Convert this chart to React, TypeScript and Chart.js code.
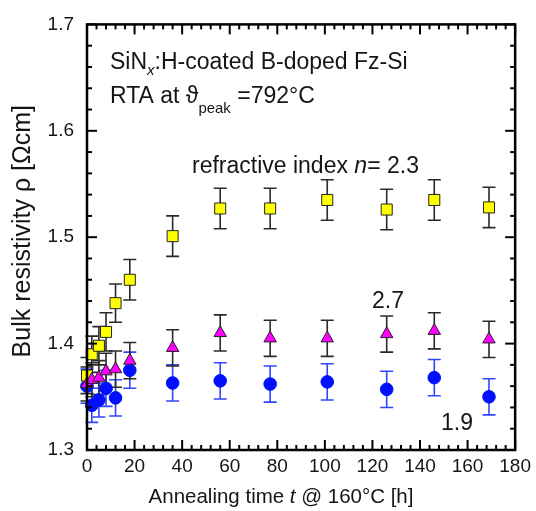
import React, { useEffect, useRef } from "react";
import { Chart, registerables } from "chart.js";

Chart.register(...registerables);

const FONT = '"Liberation Sans", Arial, Helvetica, sans-serif';
const TEXT = "#151515";

// Annealing time t @ 160°C [h]
const annealTimes = [0, 2, 5, 8, 12, 18, 36, 56, 77, 101, 126, 146, 169];

// refractive index n = 2.3 (yellow squares)
const rhoN23 = [1.370, 1.390, 1.398, 1.411, 1.438, 1.460, 1.501, 1.527, 1.527, 1.535, 1.526, 1.535, 1.528];
const errN23 = [0.017, 0.017, 0.018, 0.018, 0.018, 0.019, 0.019, 0.019, 0.019, 0.019, 0.019, 0.019, 0.019];

// refractive index n = 2.7 (magenta triangles)
const rhoN27 = [1.362, 1.366, 1.368, 1.374, 1.376, 1.384, 1.396, 1.410, 1.405, 1.405, 1.409, 1.412, 1.404];
const errN27 = [0.016, 0.016, 0.016, 0.017, 0.017, 0.017, 0.017, 0.017, 0.017, 0.017, 0.017, 0.017, 0.017];

// refractive index n = 1.9 (blue circles)
const rhoN19 = [1.360, 1.342, 1.347, 1.358, 1.349, 1.375, 1.363, 1.365, 1.362, 1.364, 1.357, 1.368, 1.350];
const errN19 = [0.016, 0.016, 0.016, 0.017, 0.017, 0.017, 0.017, 0.017, 0.017, 0.017, 0.017, 0.017, 0.017];

// axis ranges / tick steps
const xRange = [0, 180];
const xStep = 20;
const yRange = [1.3, 1.7];
const yStep = 0.1;

type Seg = { t: string; italic?: boolean; sub?: number };

function segFont(s: Seg, size: number) {
  const fs = s.sub !== undefined ? size * 0.65 : size;
  return `${s.italic ? "italic " : ""}${fs}px ${FONT}`;
}

function richWidth(ctx: CanvasRenderingContext2D, segs: Seg[], size: number) {
  let w = 0;
  for (const s of segs) {
    ctx.font = segFont(s, size);
    w += ctx.measureText(s.t).width;
  }
  return w;
}

function drawRich(ctx: CanvasRenderingContext2D, segs: Seg[], x: number, y: number, size: number) {
  let cx = x;
  for (const s of segs) {
    ctx.font = segFont(s, size);
    const dy = s.sub !== undefined ? s.sub : 0;
    ctx.fillText(s.t, cx, y + dy);
    cx += ctx.measureText(s.t).width;
  }
}

const errorBarPlugin = {
  id: "errorBars",
  beforeDatasetsDraw(chart: any) {
    const ctx: CanvasRenderingContext2D = chart.ctx;
    const xs = chart.scales.x;
    const ys = chart.scales.y;
    const cap = 6.5;
    for (let i = chart.data.datasets.length - 1; i >= 0; i--) {
      const ds: any = chart.data.datasets[i];
      ctx.save();
      ctx.strokeStyle = ds.errColor;
      ctx.lineWidth = 1.6;
      ds.data.forEach((p: any, j: number) => {
        const x = xs.getPixelForValue(p.x);
        const yTop = ys.getPixelForValue(p.y + ds.errors[j]);
        const yBot = ys.getPixelForValue(p.y - ds.errors[j]);
        ctx.beginPath();
        ctx.moveTo(x, yTop);
        ctx.lineTo(x, yBot);
        ctx.moveTo(x - cap, yTop);
        ctx.lineTo(x + cap, yTop);
        ctx.moveTo(x - cap, yBot);
        ctx.lineTo(x + cap, yBot);
        ctx.stroke();
      });
      ctx.restore();
    }
  },
};

const frameTicksPlugin = {
  id: "frameTicks",
  afterDraw(chart: any) {
    const ctx: CanvasRenderingContext2D = chart.ctx;
    const a = chart.chartArea;
    const xs = chart.scales.x;
    const ys = chart.scales.y;
    const MAJOR = 10;
    const MINOR = 5;
    ctx.save();
    ctx.strokeStyle = "#000";
    ctx.lineWidth = 2;
    const seg = (x1: number, y1: number, x2: number, y2: number) => {
      ctx.beginPath();
      ctx.moveTo(x1, y1);
      ctx.lineTo(x2, y2);
      ctx.stroke();
    };
    const xv: number[] = xs.ticks.map((t: any) => t.value);
    const drawX = (v: number, len: number) => {
      const px = xs.getPixelForValue(v);
      seg(px, a.bottom, px, a.bottom - len);
      seg(px, a.top, px, a.top + len);
    };
    xv.forEach((v) => drawX(v, MAJOR));
    for (let k = 0; k < xv.length - 1; k++) {
      const st = (xv[k + 1] - xv[k]) / 5;
      for (let m = 1; m < 5; m++) drawX(xv[k] + m * st, MINOR);
    }
    const yv: number[] = ys.ticks.map((t: any) => t.value);
    const drawY = (v: number, len: number) => {
      const py = ys.getPixelForValue(v);
      seg(a.left, py, a.left + len, py);
      seg(a.right, py, a.right - len, py);
    };
    yv.forEach((v) => drawY(v, MAJOR));
    for (let k = 0; k < yv.length - 1; k++) {
      const st = (yv[k + 1] - yv[k]) / 5;
      for (let m = 1; m < 5; m++) drawY(yv[k] + m * st, MINOR);
    }
    ctx.lineWidth = 2.5;
    ctx.strokeRect(a.left, a.top, a.right - a.left, a.bottom - a.top);
    ctx.restore();

    // annotations
    ctx.save();
    ctx.fillStyle = TEXT;
    ctx.textBaseline = "alphabetic";
    ctx.textAlign = "left";
    const S = 23;
    drawRich(ctx, [{ t: "SiN" }, { t: "x", italic: true, sub: 6 }, { t: ":H-coated B-doped Fz-Si" }], a.left + 23, a.top + 45, S);
    drawRich(ctx, [{ t: "RTA at \u03D1" }, { t: "peak", sub: 10 }, { t: " =792°C" }], a.left + 23, a.top + 79, S);
    drawRich(ctx, [{ t: "refractive index " }, { t: "n", italic: true }, { t: "= 2.3" }], a.left + 105, a.top + 149, S);
    drawRich(ctx, [{ t: "2.7" }], a.left + 285, a.top + 284, S);
    drawRich(ctx, [{ t: "1.9" }], a.left + 354, a.top + 406, S);

    // x axis title
    const titleSegs: Seg[] = [{ t: "Annealing time " }, { t: "t", italic: true }, { t: " @ 160°C [h]" }];
    const TS = 20.5;
    const w = richWidth(ctx, titleSegs, TS);
    ctx.textBaseline = "middle";
    drawRich(ctx, titleSegs, 281 - w / 2, 497, TS);

    // y axis title
    const yTitle: Seg[] = [{ t: "Bulk resistivity \u03C1 [\u03A9cm]" }];
    const YS = 25;
    const wy = richWidth(ctx, yTitle, YS);
    ctx.translate(30, (a.top + a.bottom) / 2 - 6);
    ctx.rotate(-Math.PI / 2);
    ctx.textBaseline = "alphabetic";
    drawRich(ctx, yTitle, -wy / 2, 0, YS);
    ctx.restore();
  },
};

export default function App() {
  const ref = useRef<HTMLCanvasElement | null>(null);

  useEffect(() => {
    if (!ref.current) return;
    const mk = (ys: number[]) => annealTimes.map((t, i) => ({ x: t, y: ys[i] }));
    const chart = new Chart(ref.current, {
      type: "scatter",
      data: {
        datasets: [
          {
            label: "n = 2.7",
            data: mk(rhoN27),
            errors: errN27,
            errColor: "#2a2a2a",
            pointStyle: "triangle",
            radius: 7.2,
            backgroundColor: "#ff00ff",
            borderColor: "#222",
            borderWidth: 1,
            clip: false,
          } as any,
          {
            label: "n = 2.3",
            data: mk(rhoN23),
            errors: errN23,
            errColor: "#2a2a2a",
            pointStyle: "rect",
            radius: 7.8,
            backgroundColor: "#ffff00",
            borderColor: "#222",
            borderWidth: 1,
            clip: false,
          } as any,
          {
            label: "n = 1.9",
            data: mk(rhoN19),
            errors: errN19,
            errColor: "#3045ff",
            pointStyle: "circle",
            radius: 6.3,
            backgroundColor: "#0010ff",
            borderColor: "#0010ff",
            borderWidth: 1,
            clip: false,
          } as any,
        ],
      },
      options: {
        animation: false,
        responsive: true,
        maintainAspectRatio: false,
        layout: { padding: { left: 0, right: 20, top: 18, bottom: 0 } },
        plugins: { legend: { display: false }, tooltip: { enabled: false } },
        scales: {
          x: {
            type: "linear",
            min: xRange[0],
            max: xRange[1],
            grid: { display: false, drawTicks: false },
            border: { display: false },
            ticks: {
              stepSize: xStep,
              autoSkip: false,
              maxRotation: 0,
              padding: 5,
              color: TEXT,
              font: { family: FONT, size: 19 },
            },
            afterFit(s: any) {
              s.height = 61;
            },
          },
          y: {
            type: "linear",
            min: yRange[0],
            max: yRange[1],
            grid: { display: false, drawTicks: false },
            border: { display: false },
            ticks: {
              stepSize: yStep,
              autoSkip: false,
              padding: 13,
              color: TEXT,
              font: { family: FONT, size: 19 },
              callback: (v: any) => Number(v).toFixed(1),
            },
            afterFit(s: any) {
              s.width = 87;
            },
          },
        },
      },
      plugins: [errorBarPlugin, frameTicksPlugin],
    } as any);
    return () => chart.destroy();
  }, []);

  return (
    <div style={{ position: "absolute", left: 0, top: 0, width: 536, height: 511, background: "#fff" }}>
      <canvas ref={ref} />
    </div>
  );
}
